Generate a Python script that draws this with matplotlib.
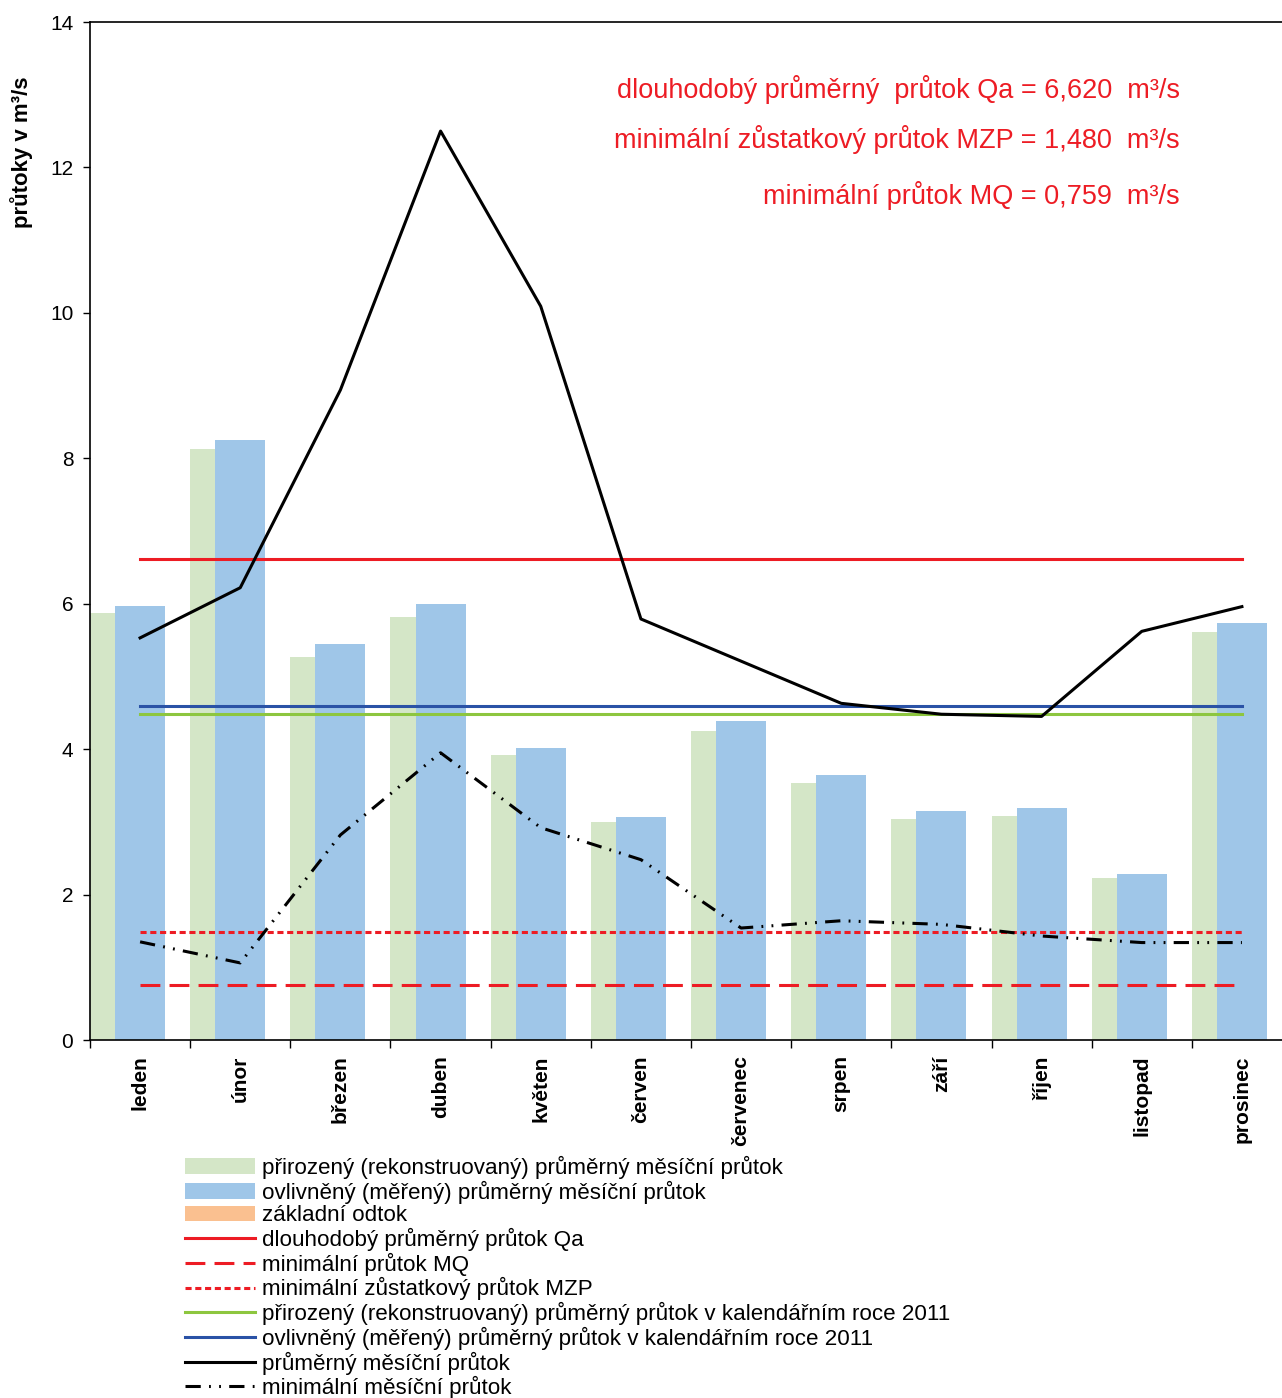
import matplotlib

matplotlib.use("Agg")
import matplotlib.pyplot as plt
import numpy as np
from matplotlib.lines import Line2D
from matplotlib.patches import Patch

plt.rcParams["font.family"] = ["Liberation Sans", "DejaVu Sans"]

months = ["leden", "únor", "březen", "duben", "květen", "červen",
          "červenec", "srpen", "září", "říjen", "listopad", "prosinec"]
natural_monthly = [5.87, 8.13, 5.27, 5.82, 3.92, 3.00, 4.25, 3.53, 3.04, 3.08, 2.23, 5.61]
measured_monthly = [5.97, 8.25, 5.45, 6.00, 4.02, 3.06, 4.39, 3.65, 3.15, 3.19, 2.28, 5.74]
mean_monthly = [5.53, 6.22, 8.94, 12.50, 10.09, 5.79, 5.21, 4.63, 4.48, 4.45, 5.62, 5.96]
min_monthly = [1.35, 1.06, 2.82, 3.95, 2.92, 2.48, 1.54, 1.64, 1.59, 1.43, 1.34, 1.34]
qa = 6.620
mzp = 1.480
mq = 0.759
natural_year = 4.48
measured_year = 4.59

C_GREEN_BAR = "#d4e6c7"
C_BLUE_BAR = "#9fc6e8"
C_ORANGE = "#fac090"
C_RED = "#ed1c24"
C_GREEN = "#8dc63f"
C_BLUE = "#2a52a6"

W, H = 1282, 1398
fig = plt.figure(figsize=(W / 100, H / 100), dpi=100)
# right edge of the axes lies past the figure, as in the source
ax = fig.add_axes([90 / W, 1 - 1040 / H, 1202 / W, 1018 / H])

x = np.arange(len(months))
ax.bar(x - 0.25, natural_monthly, width=0.5, color=C_GREEN_BAR, zorder=1)
ax.bar(x, measured_monthly, width=0.5, color=C_BLUE_BAR, zorder=2)

ends = [x[0], x[-1]]
lw = 2.2
dash_mq = (6.5, 3)
dash_mzp = (2, 1.2)
dash_min = (5, 2.7, 0.6, 2.7, 0.6, 2.7)
ax.plot(ends, [qa, qa], color=C_RED, lw=lw, zorder=3)
ax.plot(ends, [mq, mq], color=C_RED, lw=lw, dashes=dash_mq, zorder=3)
ax.plot(ends, [mzp, mzp], color=C_RED, lw=lw, dashes=dash_mzp, zorder=3)
ax.plot(ends, [natural_year, natural_year], color=C_GREEN, lw=lw, zorder=3)
ax.plot(ends, [measured_year, measured_year], color=C_BLUE, lw=lw, zorder=3)
ax.plot(x, mean_monthly, color="black", lw=lw, zorder=4)
ax.plot(x, min_monthly, color="black", lw=lw, dashes=dash_min, zorder=4)

ax.set_xlim(-0.5, 11.5)
ax.set_ylim(0, 14)
ax.set_yticks(np.arange(0, 15, 2))
ax.tick_params(axis="y", labelsize=15, length=5, pad=7, width=1)
ax.set_xticks(x)
ax.set_xticklabels(months, rotation=90, fontsize=15, fontweight="bold", va="top")
ax.set_xticks(np.arange(-0.5, 12, 1), minor=True)
ax.tick_params(axis="x", which="major", length=0, pad=11)
ax.tick_params(axis="x", which="minor", length=6, width=1)
for s in ax.spines.values():
    s.set_linewidth(1.2)

fig.text(22 / W, 1 - 152 / H, "průtoky v m³/s", rotation=90, ha="center", va="center",
         fontsize=16, fontweight="bold")

notes = [
    (89, f"dlouhodobý průměrný  průtok Qa = {qa:.3f}  m³/s"),
    (140, f"minimální zůstatkový průtok MZP = {mzp:.3f}  m³/s"),
    (196, f"minimální průtok MQ = {mq:.3f}  m³/s"),
]
for ypx, txt in notes:
    fig.text(1180 / W, 1 - ypx / H, txt.replace(".", ","), ha="right", va="center",
             fontsize=19.5, color=C_RED)

handles = [
    Patch(facecolor=C_GREEN_BAR),
    Patch(facecolor=C_BLUE_BAR),
    Patch(facecolor=C_ORANGE),
    Line2D([], [], color=C_RED, lw=lw),
    Line2D([], [], color=C_RED, lw=lw, dashes=dash_mq),
    Line2D([], [], color=C_RED, lw=lw, dashes=dash_mzp),
    Line2D([], [], color=C_GREEN, lw=lw),
    Line2D([], [], color=C_BLUE, lw=lw),
    Line2D([], [], color="black", lw=lw),
    Line2D([], [], color="black", lw=lw, dashes=dash_min),
]
labels = [
    "přirozený (rekonstruovaný) průměrný měsíční průtok",
    "ovlivněný (měřený) průměrný měsíční průtok",
    "základní odtok",
    "dlouhodobý průměrný průtok Qa",
    "minimální průtok MQ",
    "minimální zůstatkový průtok MZP",
    "přirozený (rekonstruovaný) průměrný průtok v kalendářním roce 2011",
    "ovlivněný (měřený) průměrný průtok v kalendářním roce 2011",
    "průměrný měsíční průtok",
    "minimální měsíční průtok",
]
fig.legend(handles, labels, loc="upper left", bbox_to_anchor=(185 / W, 1 - 1156 / H),
           frameon=False, fontsize=16.1, borderpad=0, borderaxespad=0,
           handlelength=3.15, handletextpad=0.3, labelspacing=0.07)

fig.savefig("out.png", dpi=100)
